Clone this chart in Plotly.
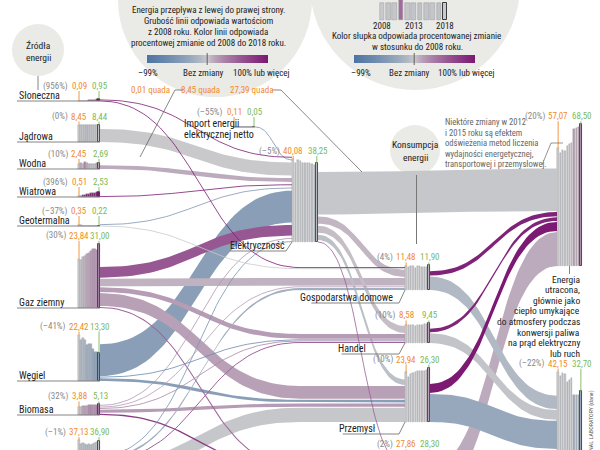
import numpy as np
import plotly.graph_objects as go

YEARS = list(range(2008, 2019))

# ---------------- data: yearly totals (quads) ----------------
sloneczna    = [0.09, 0.10, 0.11, 0.16, 0.23, 0.32, 0.43, 0.53, 0.59, 0.78, 0.95]
jadrowa      = [8.45, 8.35, 8.44, 8.26, 8.05, 8.27, 8.33, 8.34, 8.43, 8.42, 8.44]
wodna        = [2.45, 2.68, 2.51, 3.17, 2.67, 2.56, 2.47, 2.38, 2.48, 2.77, 2.69]
wiatrowa     = [0.51, 0.70, 0.92, 1.17, 1.36, 1.60, 1.73, 1.78, 2.11, 2.35, 2.53]
geotermalna  = [0.35, 0.37, 0.21, 0.23, 0.22, 0.20, 0.20, 0.22, 0.23, 0.21, 0.22]
gaz_ziemny   = [23.84, 23.37, 24.65, 24.91, 26.20, 26.63, 27.50, 28.30, 28.50, 28.00, 31.00]
wegiel       = [22.42, 19.76, 20.82, 19.66, 17.38, 18.08, 17.95, 15.70, 14.20, 14.00, 13.30]
biomasa      = [3.88, 3.90, 4.29, 4.41, 4.32, 4.80, 4.99, 4.72, 4.75, 5.00, 5.13]
ropa         = [37.13, 35.27, 35.97, 35.28, 34.69, 35.10, 34.80, 35.40, 35.90, 36.20, 36.90]
import_netto = [0.11, 0.12, 0.09, 0.13, 0.16, 0.18, 0.19, 0.24, 0.24, 0.18, 0.05]
elektrycznosc = [40.08, 38.19, 39.49, 39.33, 38.10, 38.20, 38.40, 38.30, 37.50, 37.20, 38.25]
gospodarstwa = [11.48, 11.26, 11.79, 11.42, 10.59, 11.40, 11.80, 11.20, 11.00, 11.10, 11.90]
handel       = [8.58, 8.49, 8.71, 8.59, 8.30, 8.60, 8.90, 8.90, 8.95, 9.00, 9.45]
przemysl     = [23.94, 21.78, 23.37, 23.50, 24.00, 24.70, 24.60, 24.50, 24.50, 25.30, 26.30]
transport    = [27.86, 27.00, 27.50, 27.10, 26.70, 27.00, 27.10, 27.70, 28.00, 28.10, 28.30]
utracona     = [57.07, 54.64, 56.13, 55.62, 58.10, 59.00, 59.40, 66.40, 66.70, 67.00, 68.50]
uzyteczna    = [42.15, 40.00, 41.50, 41.10, 37.00, 38.40, 39.00, 30.80, 31.10, 30.70, 32.70]

NODES = ["Słoneczna", "Jądrowa", "Wodna", "Wiatrowa", "Geotermalna", "Gaz ziemny",
         "Węgiel", "Biomasa", "Ropa naftowa", "Import energii elektrycznej netto",
         "Elektryczność", "Gospodarstwa domowe", "Handel", "Przemysł", "Transport",
         "Energia utracona", "Energia użyteczna"]
SERIES = [sloneczna, jadrowa, wodna, wiatrowa, geotermalna, gaz_ziemny, wegiel, biomasa,
          ropa, import_netto, elektrycznosc, gospodarstwa, handel, przemysl, transport,
          utracona, uzyteczna]

# flows: source, target, value 2008, value 2018 (quads)
link_source = ["Słoneczna", "Import energii elektrycznej netto", "Jądrowa", "Wodna", "Wiatrowa",
               "Geotermalna", "Węgiel", "Gaz ziemny", "Biomasa", "Ropa naftowa",
               "Słoneczna", "Geotermalna", "Elektryczność", "Gaz ziemny", "Biomasa", "Ropa naftowa",
               "Elektryczność", "Gaz ziemny", "Węgiel", "Biomasa", "Ropa naftowa",
               "Elektryczność", "Gaz ziemny", "Węgiel", "Biomasa", "Ropa naftowa",
               "Elektryczność", "Gaz ziemny", "Biomasa", "Ropa naftowa",
               "Elektryczność", "Gospodarstwa domowe", "Handel", "Przemysł", "Transport",
               "Gospodarstwa domowe", "Handel", "Przemysł", "Transport"]
link_target = ["Elektryczność"] * 10 + \
              ["Gospodarstwa domowe"] * 6 + \
              ["Handel"] * 5 + \
              ["Przemysł"] * 5 + \
              ["Transport"] * 4 + \
              ["Energia utracona"] * 5 + \
              ["Energia użyteczna"] * 4
link_2008 = [0.01, 0.11, 8.45, 2.45, 0.51, 0.31, 20.54, 6.83, 0.44, 0.47,
             0.08, 0.04, 4.63, 4.87, 0.45, 1.21,
             4.51, 3.12, 0.06, 0.11, 0.63,
             3.44, 8.32, 1.79, 2.00, 9.26,
             0.02, 0.67, 0.82, 25.60,
             27.39, 2.80, 2.30, 5.80, 22.00,
             8.68, 6.28, 18.14, 5.85]
link_2018 = [0.63, 0.05, 8.44, 2.67, 2.53, 0.16, 12.60, 10.60, 0.52, 0.22,
             0.28, 0.04, 4.85, 5.17, 0.52, 0.97,
             4.62, 3.60, 0.02, 0.14, 0.94,
             3.27, 9.43, 1.07, 2.32, 9.17,
             0.03, 0.97, 1.43, 25.90,
             27.10, 5.40, 4.40, 13.20, 24.00,
             7.74, 6.14, 13.10, 5.94]

# example series for the bar legend (top right circle)
legend_sample = [8.4, 8.2, 8.3, 12.0, 8.3, 8.2, 8.1, 8.2, 8.3, 8.1, 8.4]

# ---------------- layout / style ----------------
FONT = "Liberation Sans Narrow, Roboto Condensed, Arial Narrow, Roboto, sans-serif"
ORANGE = "#ef8b2c"
GREEN = "#7db95b"
PCTC = "#8a8a8a"
TXT = "#222222"
LINEC = "#8e8e8e"
CIRC = "#eaeae6"

POS = {  # x_left, x_right, bottom (pixels)
    "Słoneczna": (78, 100, 101), "Jądrowa": (78, 100, 142), "Wodna": (78, 100, 169),
    "Wiatrowa": (78, 100, 197), "Geotermalna": (78, 100, 226), "Gaz ziemny": (78, 100, 308),
    "Węgiel": (78, 100, 381), "Biomasa": (78, 100, 415), "Ropa naftowa": (78, 100, 517),
    "Import energii elektrycznej netto": (233, 255, 127),
    "Elektryczność": (292, 318, 242),
    "Gospodarstwa domowe": (405, 430, 290), "Handel": (405, 430, 343),
    "Przemysł": (405, 430, 422), "Transport": (405, 430, 511),
    "Energia utracona": (557, 582, 266), "Energia użyteczna": (557, 582, 459),
}
SOURCES = NODES[:9]
CONSUMERS = ["Gospodarstwa domowe", "Handel", "Przemysł", "Transport"]
IN_GAP = {"Elektryczność": 2.5}
OUT_GAP = {"Elektryczność": 2.0}
FLOW_K = 1.55
BAR_K = 2.07
BEND_X = 300

BLUE = (77, 117, 163)
NEUT = (202, 202, 204)
PURP = (124, 26, 115)


def change_rgb(pct):
    if pct >= 0:
        t, end = min(pct, 100) / 100.0, PURP
    else:
        t, end = min(-pct, 99) / 99.0, BLUE
    t = t ** 0.72
    return tuple(round(NEUT[j] + (end[j] - NEUT[j]) * t) for j in range(3))


def change_color(pct):
    c = change_rgb(pct)
    return f"rgb({c[0]},{c[1]},{c[2]})"


def fmt(v):
    return f"{v:.2f}".replace(".", ",")


def fmt_pct(p):
    p = int(round(p))
    return f"(–{abs(p)}%)" if p < 0 else f"({p}%)"


ann = []
shapes = []
traces = []


def txt(x, y, s, size=9, color=TXT, xanchor="center", **kw):
    d = dict(x=x, y=y, text=s, showarrow=False, xanchor=xanchor, yanchor="middle",
             xref="x", yref="y", font=dict(size=size, color=color, family=FONT))
    d.update(kw)
    ann.append(d)


def seg(pts, color=LINEC, width=0.8, layer="above"):
    path = "M " + " L ".join(f"{x:.2f},{y:.2f}" for x, y in pts)
    shapes.append(dict(type="path", path=path, xref="x", yref="y", layer=layer,
                       line=dict(color=color, width=width)))


# ---------------- background circles ----------------
def circle(cx, cy, r):
    shapes.append(dict(type="circle", xref="x", yref="y", x0=cx - r, x1=cx + r, y0=cy - r, y1=cy + r,
                       fillcolor=CIRC, line=dict(width=0), layer="below"))


circle(215, 0, 97)
circle(415, -15, 105)
circle(38, 50, 26)
circle(415, 150, 25)

# ---------------- flows ----------------
L = len(link_source)
bottom = {n: POS[n][2] for n in NODES}
wid = [v * FLOW_K for v in link_2008]
out_y, in_y = {}, {}
for n in NODES:
    idx = [i for i in range(L) if link_source[i] == n]
    idx.sort(key=lambda i: bottom[link_target[i]])
    g = OUT_GAP.get(n, 1.0)
    if idx:
        y = bottom[n] - (sum(wid[i] for i in idx) + g * (len(idx) - 1))
        for i in idx:
            out_y[i] = (y, y + wid[i])
            y += wid[i] + g
    idx = [i for i in range(L) if link_target[i] == n]
    g = IN_GAP.get(n, 1.0)
    if idx:
        y = bottom[n] - (sum(wid[i] for i in idx) + g * (len(idx) - 1))
        for i in idx:
            in_y[i] = (y, y + wid[i])
            y += wid[i] + g


def bez(xa, ya, xb, yb, xend, n=48):
    t = np.linspace(0, 1, n)
    xm = (xa + xb) / 2.0
    x = (1 - t) ** 3 * xa + 3 * (1 - t) ** 2 * t * xm + 3 * (1 - t) * t ** 2 * xm + t ** 3 * xb
    y = (1 - t) ** 3 * ya + 3 * (1 - t) ** 2 * t * ya + 3 * (1 - t) * t ** 2 * yb + t ** 3 * yb
    if xend > xb + 0.1:
        x = np.append(x, xend)
        y = np.append(y, yb)
    return x, y


order = sorted(range(L), key=lambda i: -wid[i])
for i in order:
    s, t = link_source[i], link_target[i]
    xa = POS[s][1]
    xe = POS[t][0]
    xb = BEND_X if (s in SOURCES and t in CONSUMERS) else xe
    pct = (link_2018[i] / link_2008[i] - 1) * 100
    col = change_color(pct)
    (a0, a1), (b0, b1) = out_y[i], in_y[i]
    if wid[i] >= 1.6:
        xt, yt = bez(xa, a0, xb, b0, xe)
        xbm, ybm = bez(xa, a1, xb, b1, xe)
        xs = np.concatenate([xt, xbm[::-1]])
        ys = np.concatenate([yt, ybm[::-1]])
        traces.append(go.Scatter(x=xs, y=ys, mode="lines", fill="toself", fillcolor=col,
                                 line=dict(width=0, color=col), hoverinfo="skip"))
    else:
        xc, yc = bez(xa, (a0 + a1) / 2, xb, (b0 + b1) / 2, xe)
        traces.append(go.Scatter(x=xc, y=yc, mode="lines",
                                 line=dict(width=max(wid[i], 0.8), color=col), hoverinfo="skip"))

# ---------------- node mini bar charts + value labels ----------------
for n, ser in zip(NODES, SERIES):
    x0, x1, yb = POS[n]
    pitch = (x1 - x0) / len(ser)
    xs = [x0 + pitch * (k + 0.5) for k in range(len(ser))]
    hs = [v * BAR_K for v in ser]
    cols = [change_color((v / ser[0] - 1) * 100) for v in ser]
    lcols = ["#9a9a9a"] * (len(ser) - 1) + ["#3a3a3a"]
    lw = [0.4] * (len(ser) - 1) + [0.9]
    traces.append(go.Bar(x=xs, y=[-h for h in hs], base=[yb] * len(ser), width=pitch * 0.62,
                         marker=dict(color=cols, line=dict(color=lcols, width=lw)),
                         hoverinfo="skip"))
    ly = yb - max(max(hs) + 8, 15)
    o, g = fmt(ser[0]), fmt(ser[-1])
    pct = (ser[-1] / ser[0] - 1) * 100
    txt(xs[0], ly, o, size=9, color=ORANGE)
    txt(xs[0] - 3.9 * len(o) / 2 - 1.5, ly, fmt_pct(pct), size=9, color=PCTC, xanchor="right")
    txt(xs[-1] + 1, ly, g, size=9, color=GREEN)
    seg([(xs[0], ly + 5), (xs[0], yb - hs[0])], color=ORANGE, width=0.9)
    seg([(xs[-1], ly + 5), (xs[-1], yb - hs[-1])], color=GREEN, width=0.9)

# ---------------- node labels ----------------
for n in SOURCES:
    x0, x1, yb = POS[n]
    seg([(17, yb), (x1, yb)], color="#777777", width=0.9)
    txt(17, yb - 6, n, size=10, xanchor="left")

x0, x1, yb = POS["Import energii elektrycznej netto"]
seg([(x0, yb), (x1, yb)], color="#777777", width=0.9)
txt(182, 123, "Import energii", size=10, xanchor="left")
txt(182, 134, "elektrycznej netto", size=10, xanchor="left")

MID_LABELS = {  # name: (text right x, text y)
    "Elektryczność": (287, 245),
    "Gospodarstwa domowe": (395, 297),
    "Handel": (368, 348),
    "Przemysł": (378, 428),
    "Transport": (378, 520),
}
for n, (xr, ty) in MID_LABELS.items():
    x0, x1, yb = POS[n]
    txt(xr, ty, n, size=10, xanchor="right")
    w = 4.4 * len(n)
    seg([(xr - w, ty + 6), (x0 - 6, ty + 6), (x0, yb)], color="#777777", width=0.9)

# Energia utracona label block
x0, x1, yb = POS["Energia utracona"]
seg([(569.5, yb), (569.5, yb + 8)], color="#777777", width=0.9)
lost_lines = ["Energia", "utracona,", "głównie jako", "ciepło umykające", "do atmosfery podczas",
              "konwersji paliwa", "na prąd elektryczny", "lub ruch"]
for k, s in enumerate(lost_lines):
    txt(582, 279 + k * 10.6, s, size=9.5, xanchor="right")

# ---------------- annotations ----------------
seg([(38, 76), (38, 90)], color="#777777", width=0.9)
txt(38, 45, "Źródła", size=9.5)
txt(38, 57, "energii", size=9.5)
seg([(416.5, 175), (416.5, 244)], color="#777777", width=1.0)
txt(415, 144, "Konsumpcja", size=9.5)
txt(415, 157, "energii", size=9.5)

txt(150, 90, "0,01 quada", size=9, color=ORANGE)
txt(200, 90, "8,45 quada", size=9, color=ORANGE)
seg([(183, 90), (175, 90), (140, 157)], color="#555555", width=0.7)
txt(252, 90, "27,39 quada", size=9, color=ORANGE)
seg([(272, 90), (281, 90), (362, 172)], color="#555555", width=0.7)

note = ["Niektóre zmiany w 2012", "i 2015 roku są efektem", "odświeżenia metod liczenia",
        "wydajności energetycznej,", "transportowej i przemysłowej."]
for k, s in enumerate(note):
    txt(443, 122 + k * 10.6, s, size=8.6, color="#666666", xanchor="left")
seg([(542, 165), (551, 143), (563, 143)], color="#666666", width=0.7)

lc = ["Energia przepływa z lewej do prawej strony.", "Grubość linii odpowiada wartościom",
      "z 2008 roku. Kolor linii odpowiada", "procentowej zmianie od 2008 do 2018 roku."]
for k, s in enumerate(lc):
    txt(208, 10 + k * 11, s, size=9)

NCB = 120
pct_grid = np.linspace(-99, 100, NCB)
cs_pos = np.linspace(0, 1, 41)
colorscale = [[float(p), change_color(-99 + p * 199)] for p in cs_pos]
for (cx0, cx1) in [(147, 268), (354, 475)]:
    traces.append(go.Heatmap(z=[list(pct_grid)], x=list(np.linspace(cx0, cx1, NCB + 1)), y=[55, 63],
                             colorscale=colorscale, zmin=-99, zmax=100, showscale=False,
                             hoverinfo="skip"))
    xn = cx0 + (cx1 - cx0) * 99 / 199
    seg([(xn, 53), (xn, 65)], color="#444444", width=0.8)

txt(148, 73, "–99%", size=9)
txt(226, 73, "Bez zmiany", size=9, xanchor="right")
txt(231, 73, "100% lub więcej", size=9, xanchor="left")
txt(361, 73, "–99%", size=9)
txt(432, 73, "Bez zmiany", size=9, xanchor="right")
txt(436, 73, "100% lub więcej", size=9, xanchor="left")

lg_x0, lg_pitch, lg_bottom = 379, 6.3, 20
lxs = [lg_x0 + lg_pitch * (k + 0.5) for k in range(len(YEARS))]
lcols = [change_color((v / legend_sample[0] - 1) * 100) for v in legend_sample]
traces.append(go.Bar(x=lxs, y=[-v * BAR_K for v in legend_sample], base=[lg_bottom] * len(lxs),
                     width=lg_pitch * 0.72,
                     marker=dict(color=lcols,
                                 line=dict(color=["#9a9a9a"] * 10 + ["#3a3a3a"], width=[0.5] * 10 + [1.0])),
                     hoverinfo="skip"))
for yr, xx in zip(YEARS, lxs):
    if yr in (2008, 2013, 2018):
        txt(xx, 26, str(yr), size=9)
txt(416, 36, "Kolor słupka odpowiada procentowanej zmianie", size=9)
txt(417, 47, "w stosunku do 2008 roku.", size=9)

txt(591, 388, "LAWRENCE LIVERMORE NATIONAL LABORATORY (dane)", size=6, color="#555555",
    textangle=-90, yanchor="top")

fig = go.Figure(traces)
fig.update_layout(
    width=600, height=450, margin=dict(l=0, r=0, t=0, b=0),
    paper_bgcolor="white", plot_bgcolor="white", showlegend=False,
    barmode="overlay", bargap=0,
    xaxis=dict(range=[0, 600], visible=False, fixedrange=True),
    yaxis=dict(range=[450, 0], visible=False, fixedrange=True),
    annotations=ann, shapes=shapes,
    font=dict(family=FONT),
)
fig.write_html("out.html", config={"displayModeBar": False},
               post_script="document.body.style.margin='0px';document.body.style.overflow='hidden';")
